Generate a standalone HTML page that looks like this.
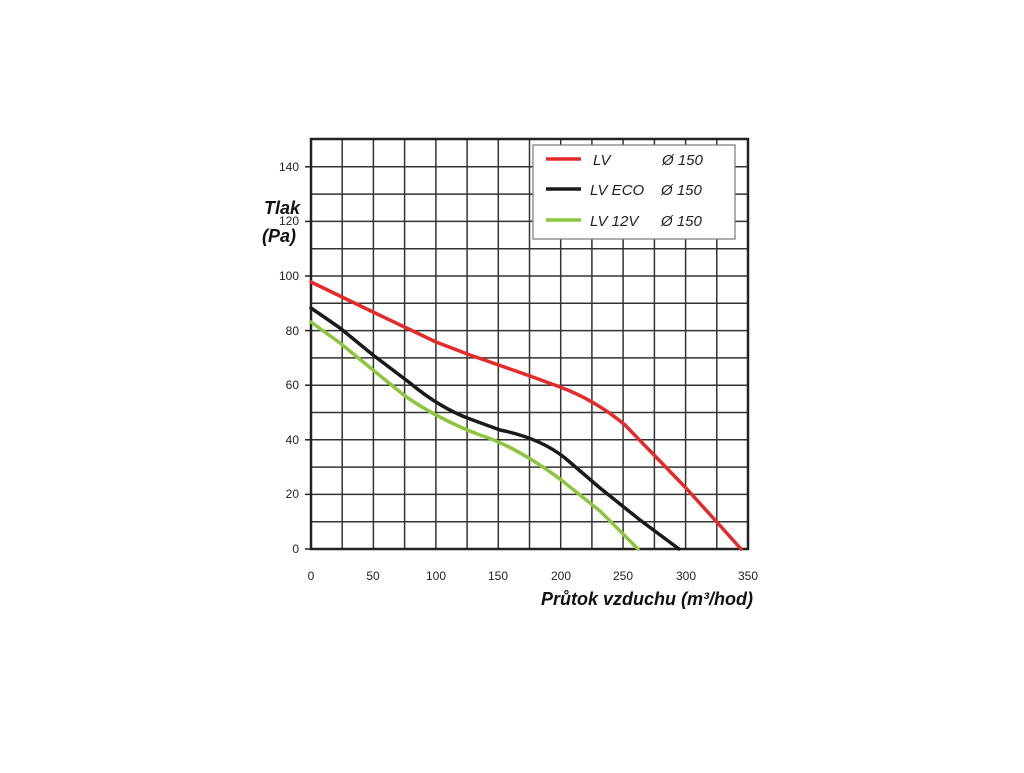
<!DOCTYPE html>
<html><head><meta charset="utf-8"><style>body{margin:0;background:#fff}</style></head><body>
<svg width="1024" height="768" xmlns="http://www.w3.org/2000/svg" font-family="Liberation Sans, sans-serif">
<rect width="1024" height="768" fill="#fff"/>
<g stroke="#333" stroke-width="1.5">
<line x1="342.2" y1="139" x2="342.2" y2="549"/><line x1="373.4" y1="139" x2="373.4" y2="549"/><line x1="404.6" y1="139" x2="404.6" y2="549"/><line x1="435.9" y1="139" x2="435.9" y2="549"/><line x1="467.1" y1="139" x2="467.1" y2="549"/><line x1="498.3" y1="139" x2="498.3" y2="549"/><line x1="529.5" y1="139" x2="529.5" y2="549"/><line x1="560.7" y1="139" x2="560.7" y2="549"/><line x1="591.9" y1="139" x2="591.9" y2="549"/><line x1="623.1" y1="139" x2="623.1" y2="549"/><line x1="654.4" y1="139" x2="654.4" y2="549"/><line x1="685.6" y1="139" x2="685.6" y2="549"/><line x1="716.8" y1="139" x2="716.8" y2="549"/>
<line x1="311" y1="521.7" x2="748" y2="521.7"/><line x1="311" y1="494.4" x2="748" y2="494.4"/><line x1="311" y1="467.1" x2="748" y2="467.1"/><line x1="311" y1="439.8" x2="748" y2="439.8"/><line x1="311" y1="412.5" x2="748" y2="412.5"/><line x1="311" y1="385.2" x2="748" y2="385.2"/><line x1="311" y1="357.9" x2="748" y2="357.9"/><line x1="311" y1="330.6" x2="748" y2="330.6"/><line x1="311" y1="303.3" x2="748" y2="303.3"/><line x1="311" y1="276" x2="748" y2="276"/><line x1="311" y1="248.7" x2="748" y2="248.7"/><line x1="311" y1="221.4" x2="748" y2="221.4"/><line x1="311" y1="194.1" x2="748" y2="194.1"/><line x1="311" y1="166.8" x2="748" y2="166.8"/>
</g>
<rect x="311" y="139" width="437" height="410" fill="none" stroke="#222" stroke-width="2.5"/>
<g stroke="#222" stroke-width="1.5">
<line x1="305" y1="549" x2="311" y2="549"/><line x1="305" y1="494.4" x2="311" y2="494.4"/><line x1="305" y1="439.8" x2="311" y2="439.8"/><line x1="305" y1="385.2" x2="311" y2="385.2"/><line x1="305" y1="330.6" x2="311" y2="330.6"/><line x1="305" y1="276" x2="311" y2="276"/><line x1="305" y1="221.4" x2="311" y2="221.4"/><line x1="305" y1="166.8" x2="311" y2="166.8"/>
</g>
<g font-size="12" fill="#222" text-anchor="end">
<text x="299" y="553">0</text><text x="299" y="498">20</text><text x="299" y="444">40</text><text x="299" y="389">60</text><text x="299" y="335">80</text><text x="299" y="280">100</text><text x="299" y="225">120</text><text x="299" y="171">140</text>
</g>
<g font-size="12" fill="#222" text-anchor="middle">
<text x="311" y="580">0</text><text x="373" y="580">50</text><text x="436" y="580">100</text><text x="498" y="580">150</text><text x="561" y="580">200</text><text x="623" y="580">250</text><text x="686" y="580">300</text><text x="748" y="580">350</text>
</g>
<g font-size="18" font-weight="bold" font-style="italic" fill="#111">
<text x="264" y="214">Tlak</text><text x="262" y="242">(Pa)</text>
<text x="753" y="605" text-anchor="end">Průtok vzduchu (m³/hod)</text>
</g>
<g fill="none" stroke-width="3.5" stroke-linecap="round" stroke-linejoin="round">
<path stroke="#e52a2a" d="M311,282 L373,312 L436,342 L470,355 L530,376 L560,387 Q595,400 625,425 L655,456 L685,487 L715,520 L741,549"/>
<path stroke="#1a1a1a" d="M311,308 L340,328 L373,355 L410,383 Q440,408 470,419 L500,430 Q540,438 565,458 L600,488 L640,520 L679,549"/>
<path stroke="#8cc63f" d="M311,322 L340,343 L373,370 L405,396 Q440,420 480,435 Q515,446 560,479 L600,511 L638,549"/>
</g>
<rect x="533" y="145" width="202" height="94" fill="#fff" stroke="#777" stroke-width="1.2"/>
<g stroke-width="3.5"><line x1="546" y1="159" x2="581" y2="159" stroke="#e52a2a"/><line x1="546" y1="189" x2="581" y2="189" stroke="#1a1a1a"/><line x1="546" y1="220" x2="581" y2="220" stroke="#8cc63f"/></g>
<g font-size="15" font-style="italic" fill="#222">
<text x="593" y="165">LV</text><text x="590" y="195">LV ECO</text><text x="590" y="226">LV 12V</text>
<text x="662" y="165">Ø 150</text><text x="661" y="195">Ø 150</text><text x="661" y="226">Ø 150</text>
</g>
</svg>
</body></html>
